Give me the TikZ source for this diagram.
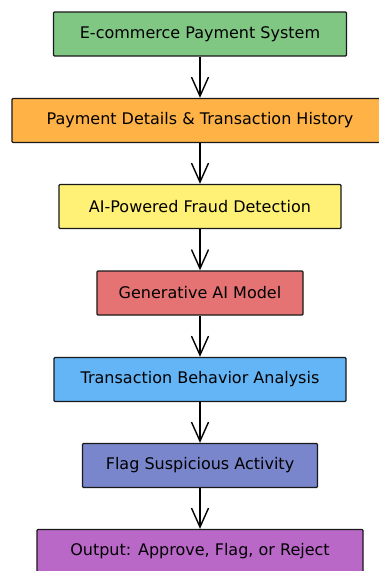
\documentclass[tikz,border=0pt]{standalone}
\usepackage{fontspec}
\setmainfont{DejaVu Sans}
\usetikzlibrary{arrows.meta}
\definecolor{boxgreen}{HTML}{81C784}
\definecolor{boxorange}{HTML}{FFB246}
\definecolor{boxyellow}{HTML}{FFF176}
\definecolor{boxred}{HTML}{E57373}
\definecolor{boxblue}{HTML}{64B5F6}
\definecolor{boxindigo}{HTML}{7986CB}
\definecolor{boxpurple}{HTML}{BA68C8}

\begin{document}
\begin{tikzpicture}[
  x=1pt,y=-1pt,
  font=\fontsize{16}{18}\selectfont,
  box/.style={draw=black!90,line width=1.4pt,rounded corners=1pt,align=center,
              inner sep=0pt,minimum height=44pt},
  flow/.style={-{Straight Barb[length=19pt,width=17pt]},line width=1.4pt},
]
  \useasboundingbox (0,0) rectangle (379,571);

  \node[box,fill=boxgreen,minimum width=293pt]  (system)   at (200,34)    {E-commerce Payment System};
  \node[box,fill=boxorange,minimum width=376pt] (details)  at (200,120.5) {Payment Details \& Transaction History};
  \node[box,fill=boxyellow,minimum width=282pt] (fraud)    at (200,206.5) {AI-Powered Fraud Detection};
  \node[box,fill=boxred,minimum width=206pt]    (model)    at (200,293)   {Generative AI Model};
  \node[box,fill=boxblue,minimum width=292pt]   (behavior) at (200,379.5) {Transaction Behavior Analysis};
  \node[box,fill=boxindigo,minimum width=235pt] (flag)     at (200,465.5) {Flag Suspicious Activity};
  \node[box,fill=boxpurple,minimum width=326pt] (output)   at (200,551.5) {Output: Approve, Flag, or Reject};

  \draw[flow] (system) -- (details);
  \draw[flow] (details) -- (fraud);
  \draw[flow] (fraud) -- (model);
  \draw[flow] (model) -- (behavior);
  \draw[flow] (behavior) -- (flag);
  \draw[flow] (flag) -- (output);
\end{tikzpicture}
\end{document}
